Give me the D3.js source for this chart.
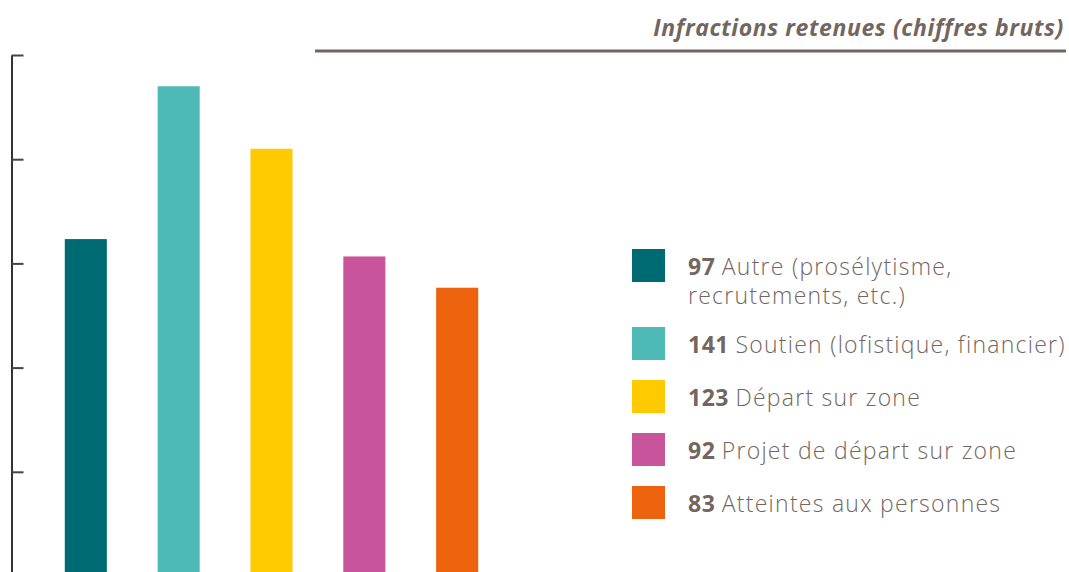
<!DOCTYPE html>
<html>
<head>
<meta charset="utf-8">
<script src="https://cdn.jsdelivr.net/npm/d3@7"></script>
<style>
  body { margin: 0; background: #fff; }
  svg { display: block; }
  .legend-text { font-family: "Open Sans", sans-serif; font-weight: 300; font-size: 23px; letter-spacing: 1.25px; fill: #736660; }
  .legend-text .num { font-weight: 700; letter-spacing: 0.5px; }
</style>
</head>
<body>
<div id="chart"></div>
<script>
var categories = ["Autre", "Soutien", "Départ", "Projet", "Atteintes"];
var values = [97, 141, 123, 92, 83];
var colors = ["#006a73", "#4dbab7", "#ffca00", "#c8559b", "#ed620c"];
var labels = [
  ["Autre (prosélytisme,", "recrutements, etc.)"],
  ["Soutien (lofistique, financier)"],
  ["Départ sur zone"],
  ["Projet de départ sur zone"],
  ["Atteintes aux personnes"]
];
var yTicks = [30, 60, 90, 120, 150];
var title = "Infractions retenues (chiffres bruts)";

var width = 1069, height = 572;

var svg = d3.select('#chart')
  .append('svg')
  .attr('width', width)
  .attr('height', height);

var x = d3.scaleBand()
  .domain(categories)
  .range([14, 529])
  .paddingInner(0.547)
  .paddingOuter(0.547);

var y = d3.scaleLinear()
  .domain([0, 150])
  .range([576, 55]);

// bars
svg.append('g').selectAll('rect')
  .data(values)
  .enter().append('rect')
    .attr('x', function(d, i) { return x(categories[i]); })
    .attr('y', function(d) { return y(d); })
    .attr('width', x.bandwidth())
    .attr('height', function(d) { return y(0) - y(d); })
    .attr('fill', function(d, i) { return colors[i]; });

// y axis, ticks without labels
var yAxis = d3.axisRight(y)
  .tickValues(yTicks)
  .tickSize(12)
  .tickSizeOuter(0)
  .tickFormat('');

var ax = svg.append('g')
  .attr('transform', 'translate(11.5,0)')
  .call(yAxis);
ax.select('.domain').attr('stroke', '#333').attr('stroke-width', 2);
ax.selectAll('.tick line').attr('stroke', '#444').attr('stroke-width', 2);

// title + rule
svg.append('text')
  .attr('x', 1064)
  .attr('y', 36)
  .attr('text-anchor', 'end')
  .style('font-family', '"Open Sans", sans-serif')
  .style('font-weight', 700)
  .style('font-style', 'italic')
  .style('font-size', '23px')
  .style('letter-spacing', '0.6px')
  .style('fill', '#736660')
  .text(title);

svg.append('line')
  .attr('x1', 315).attr('x2', 1066)
  .attr('y1', 51).attr('y2', 51)
  .attr('stroke', '#736660')
  .attr('stroke-width', 3);

// legend
var legend = svg.append('g').attr('class', 'legend');

var item = legend.selectAll('g')
  .data(values)
  .enter().append('g')
    .attr('transform', function(d, i) {
      return 'translate(632,' + (249 + i * 53 + (i > 0 ? 25 : 0)) + ')';
    });

item.append('rect')
  .attr('width', 33)
  .attr('height', 33)
  .attr('fill', function(d, i) { return colors[i]; });

item.each(function(d, i) {
  var g = d3.select(this);
  labels[i].forEach(function(line, j) {
    var t = g.append('text')
      .attr('class', 'legend-text')
      .attr('x', 56)
      .attr('y', 26 + j * 29);
    if (j === 0) {
      t.append('tspan').attr('class', 'num').text(d + ' ');
    }
    t.append('tspan').text(line);
  });
});
</script>
</body>
</html>
